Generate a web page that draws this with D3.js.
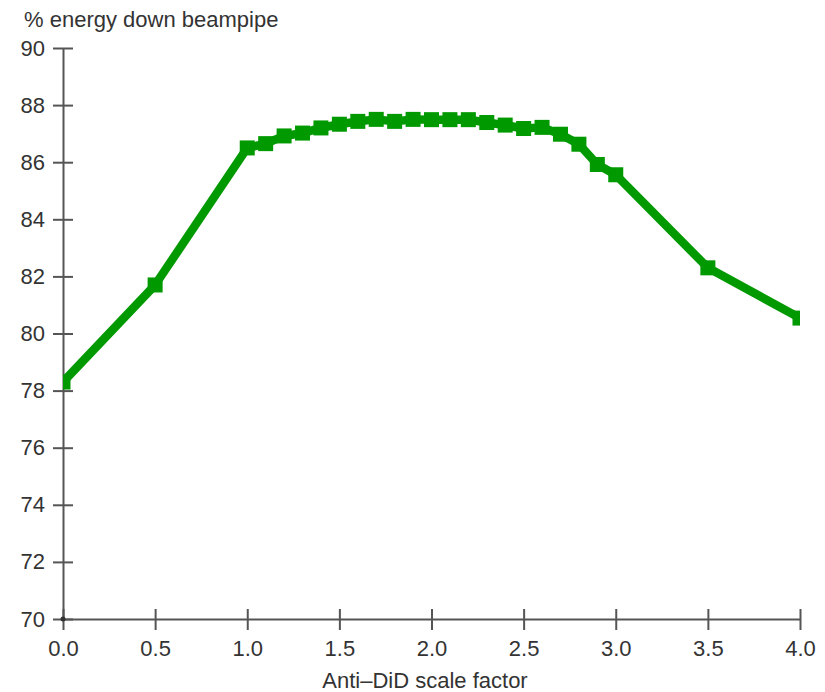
<!DOCTYPE html>
<html>
<head>
<meta charset="utf-8">
<script src="https://cdn.jsdelivr.net/npm/d3@7"></script>
<style>
  html, body { margin: 0; padding: 0; background: #fff; }
  text { font-family: "Liberation Sans", Arial, Helvetica, sans-serif; fill: #333; }
</style>
</head>
<body>
<svg id="chart" width="825" height="692"></svg>
<script>
const scaleFactors = [0.0, 0.5, 1.0, 1.1, 1.2, 1.3, 1.4, 1.5, 1.6, 1.7, 1.8, 1.9, 2.0, 2.1, 2.2, 2.3, 2.4, 2.5, 2.6, 2.7, 2.8, 2.9, 3.0, 3.5, 4.0];
const energyPct    = [78.3, 81.7, 86.5, 86.65, 86.92, 87.02, 87.2, 87.33, 87.43, 87.5, 87.43, 87.5, 87.49, 87.49, 87.49, 87.39, 87.3, 87.18, 87.22, 86.98, 86.63, 85.92, 85.56, 82.3, 80.54];
const xTicks = [0.0, 0.5, 1.0, 1.5, 2.0, 2.5, 3.0, 3.5, 4.0];
const yTicks = [70, 72, 74, 76, 78, 80, 82, 84, 86, 88, 90];
const yTitle = "% energy down beampipe";
const xTitle = "Anti\u2013DiD scale factor";

const svg = d3.select("#chart");
const pLeft = 63, pRight = 800, pTop = 48, pBottom = 619;
const x = d3.scaleLinear().domain([0, 4]).range([pLeft, pRight]);
const y = d3.scaleLinear().domain([70, 90]).range([pBottom, pTop]);

const axisColor = "#555";
const fs = "22px";

svg.append("defs").append("clipPath").attr("id", "plotclip")
  .append("rect").attr("x", pLeft).attr("y", pTop - 10).attr("width", pRight - pLeft).attr("height", pBottom - pTop + 10);

// y axis
const yAxis = svg.append("g").attr("transform", `translate(${pLeft},0)`)
  .call(d3.axisLeft(y).tickValues(yTicks).tickFormat(d3.format("d")).tickSize(0).tickPadding(18));
yAxis.attr("font-family", null).attr("font-size", null);
yAxis.select(".domain").attr("stroke", axisColor).attr("stroke-width", 2);
yAxis.selectAll(".tick line").attr("x1", -10).attr("x2", 10).attr("stroke", axisColor).attr("stroke-width", 2);
yAxis.selectAll(".tick text").style("font-size", fs).attr("fill", "#333");

// x axis
const xAxis = svg.append("g").attr("transform", `translate(0,${pBottom})`)
  .call(d3.axisBottom(x).tickValues(xTicks).tickFormat(d3.format(".1f")).tickSize(0).tickPadding(21));
xAxis.attr("font-family", null).attr("font-size", null);
xAxis.select(".domain").attr("stroke", axisColor).attr("stroke-width", 2);
xAxis.selectAll(".tick line").attr("y1", -10).attr("y2", 11).attr("stroke", axisColor).attr("stroke-width", 2);
xAxis.selectAll(".tick text").style("font-size", fs).attr("fill", "#333");

svg.append("circle").attr("cx", pLeft).attr("cy", pBottom).attr("r", 2.5).attr("fill", "#333");

svg.append("text").attr("x", 24).attr("y", 27).style("font-size", fs).text(yTitle);
svg.append("text").attr("x", 425).attr("y", 688).attr("text-anchor", "middle")
  .style("font-size", fs).text(xTitle);

const data = scaleFactors.map((s, i) => ({ s, v: energyPct[i] }));
const plot = svg.append("g").attr("clip-path", "url(#plotclip)");
plot.append("path").datum(data)
  .attr("fill", "none").attr("stroke", "#009900").attr("stroke-width", 8.5).attr("stroke-linejoin", "round")
  .attr("d", d3.line().x(d => x(d.s)).y(d => y(d.v)));
const ms = 15;
plot.selectAll("rect.m").data(data).join("rect").attr("class", "m")
  .attr("x", d => x(d.s) - ms / 2).attr("y", d => y(d.v) - ms / 2)
  .attr("width", ms).attr("height", ms).attr("fill", "#009900");
</script>
</body>
</html>
